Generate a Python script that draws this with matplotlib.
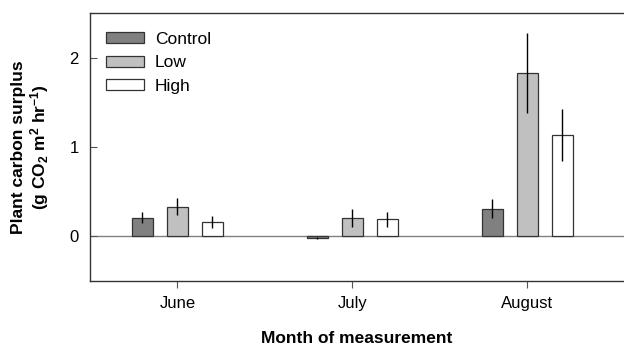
import numpy as np
import matplotlib
matplotlib.use("Agg")
import matplotlib.pyplot as plt

plt.rcParams['font.family'] = ['Liberation Sans', 'DejaVu Sans']
plt.rcParams['mathtext.fontset'] = 'custom'
plt.rcParams['mathtext.rm'] = 'Liberation Sans:bold'
plt.rcParams['mathtext.it'] = 'Liberation Sans:bold'
plt.rcParams['mathtext.bf'] = 'Liberation Sans:bold'

months = ["June", "July", "August"]
treatments = ["Control", "Low", "High"]
control = [0.21, -0.02, 0.31]
control_err = [0.06, 0.015, 0.11]
low = [0.33, 0.21, 1.83]
low_err = [0.095, 0.10, 0.45]
high = [0.16, 0.19, 1.13]
high_err = [0.065, 0.08, 0.29]

colors = ["#808080", "#c0c0c0", "#ffffff"]

fig = plt.figure(figsize=(6.24, 3.48), dpi=100)
ax = fig.add_axes([90 / 624, 67 / 348, 534 / 624, 268 / 348])

x = np.arange(len(months))
width = 0.12
offsets = [-0.2, 0.0, 0.2]
series = [(control, control_err), (low, low_err), (high, high_err)]

ax.axhline(0, color="#808080", lw=1.0, zorder=1)
for (vals, errs), off, col, name in zip(series, offsets, colors, treatments):
    ax.bar(x + off, vals, width, color=col, edgecolor="#333333", linewidth=0.9,
           label=name, zorder=2)
    ax.errorbar(x + off, vals, yerr=errs, fmt="none", ecolor="black",
                elinewidth=1.0, capsize=0, zorder=3)

ax.set_xlim(-0.5, -0.5 + 534 / 175)
ax.set_ylim(-0.5, 2.5)
ax.set_xticks(x)
ax.set_xticklabels(months, fontsize=12)
ax.set_yticks([0, 1, 2])
ax.set_yticklabels(["0", "1", "2"], fontsize=12)
ax.tick_params(axis="y", direction="in", length=5, width=0.8, color="#555555", pad=8)
ax.tick_params(axis="x", direction="out", length=5, width=0.8, color="#555555", pad=6)

ax.spines["right"].set_visible(False)
for s in ["left", "top", "bottom"]:
    ax.spines[s].set_linewidth(1.0)
    ax.spines[s].set_color("#333333")

ax.set_xlabel("Month of measurement", fontsize=12.5, fontweight="bold", labelpad=14)
ax.set_ylabel("Plant carbon surplus\n(g CO$_2$ m$^2$ hr$^{-1}$)", fontsize=12.5,
              fontweight="bold", labelpad=13, linespacing=1.12)

ax.legend(loc="upper left", frameon=False, fontsize=12.5, handlelength=2.2,
          handleheight=0.6, handletextpad=0.6, labelspacing=0.48,
          borderaxespad=0.0, bbox_to_anchor=(0.017, 0.955))

fig.savefig("out.png", dpi=100)
